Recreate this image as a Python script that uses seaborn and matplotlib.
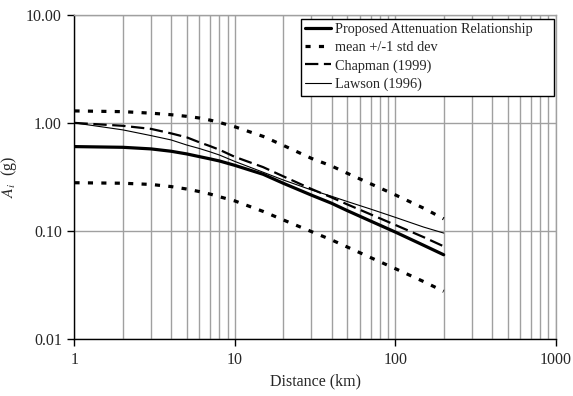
import numpy as np
import pandas as pd
import matplotlib
matplotlib.use("Agg")
import matplotlib.pyplot as plt
import seaborn as sns

# distances (km)
distance = [1, 2, 3, 4, 5, 6, 7, 8, 10, 15, 20, 30, 40, 50, 70, 100, 150, 200]

# spectral acceleration A_i (g) for each curve
proposed = [0.604, 0.595, 0.575, 0.547, 0.517, 0.488, 0.465, 0.445, 0.405, 0.335,
            0.277, 0.215, 0.181, 0.155, 0.124, 0.098, 0.074, 0.0605]
upper_sd = [1.29, 1.27, 1.23, 1.19, 1.15, 1.11, 1.06, 1.01, 0.92, 0.75,
            0.62, 0.47, 0.400, 0.343, 0.274, 0.216, 0.163, 0.130]
lower_sd = [0.28, 0.277, 0.27, 0.258, 0.245, 0.232, 0.220, 0.208, 0.19, 0.152,
            0.127, 0.099, 0.083, 0.0715, 0.057, 0.045, 0.0342, 0.0278]
chapman = [1.0, 0.94, 0.88, 0.80, 0.736, 0.662, 0.61, 0.565, 0.485, 0.39,
           0.321, 0.245, 0.205, 0.177, 0.143, 0.114, 0.088, 0.0724]
lawson = [1.0, 0.862, 0.763, 0.696, 0.625, 0.58, 0.54, 0.505, 0.44, 0.35,
          0.297, 0.24, 0.21, 0.188, 0.16, 0.134, 0.109, 0.096]

x_ticks = [1, 10, 100, 1000]
y_ticks = [0.01, 0.1, 1, 10]
y_tick_labels = ["0.01", "0.10", "1.00", "10.00"]

df = pd.DataFrame({"distance": distance, "proposed": proposed, "upper": upper_sd,
                   "lower": lower_sd, "chapman": chapman, "lawson": lawson})

sns.set_style("white")
plt.rcParams["font.family"] = ["Liberation Serif", "DejaVu Serif"]
plt.rcParams["mathtext.fontset"] = "stix"

fig = plt.figure(figsize=(5.73, 3.96), dpi=100)
ax = fig.add_axes([0.130, 0.143, 0.840, 0.820])

grid_col = "#a0a0a0"

sns.lineplot(data=df, x="distance", y="proposed", ax=ax, color="black", lw=2.3,
             label="Proposed Attenuation Relationship")
sns.lineplot(data=df, x="distance", y="upper", ax=ax, color="black", lw=2.3,
             linestyle=(0, (1.6, 2.6)), label="mean +/-1 std dev")
sns.lineplot(data=df, x="distance", y="lower", ax=ax, color="black", lw=2.3,
             linestyle=(0, (1.6, 2.6)), label="_nolegend_")
sns.lineplot(data=df, x="distance", y="chapman", ax=ax, color="black", lw=1.6,
             linestyle=(0, (6, 2.5)), label="Chapman (1999)")
sns.lineplot(data=df, x="distance", y="lawson", ax=ax, color="black", lw=0.8,
             label="Lawson (1996)")

ax.set_xscale("log")
ax.set_yscale("log")
ax.set_xlim(1, 1000)
ax.set_ylim(0.01, 10)
ax.set_xticks(x_ticks)
ax.set_xticklabels([str(t) for t in x_ticks])
ax.set_yticks(y_ticks)
ax.set_yticklabels(y_tick_labels)
ax.minorticks_on()
ax.yaxis.set_minor_locator(matplotlib.ticker.NullLocator())

ax.grid(True, which="both", axis="x", color=grid_col, lw=1.0)
ax.grid(True, which="major", axis="y", color=grid_col, lw=1.0)
ax.set_axisbelow(True)

ax.tick_params(axis="both", which="major", direction="out", length=5, width=1,
               color="black", labelsize=11.5, pad=4)
ax.tick_params(axis="x", which="minor", length=0)
ax.tick_params(left=True, bottom=True)

for side in ["left", "bottom"]:
    ax.spines[side].set_color("black")
    ax.spines[side].set_linewidth(1.0)
for side in ["top", "right"]:
    ax.spines[side].set_color(grid_col)
    ax.spines[side].set_linewidth(1.0)

ax.set_xlabel("Distance (km)", fontsize=11.5, labelpad=4)
ax.set_ylabel(r"$A_i$  (g)", fontsize=11.5, labelpad=5)

# legend box stretched to the width it has in the original
leg = ax.legend(loc="upper left", bbox_to_anchor=(0.470, 0.747, 0.5265, 0.241),
                mode="expand", borderaxespad=0,
                fancybox=False, framealpha=1, edgecolor="black", fontsize=10.3,
                handlelength=1.8, handletextpad=0.3, labelspacing=0.36,
                borderpad=0.3)
leg.get_frame().set_linewidth(1.0)

fig.savefig("out.png", dpi=100)
